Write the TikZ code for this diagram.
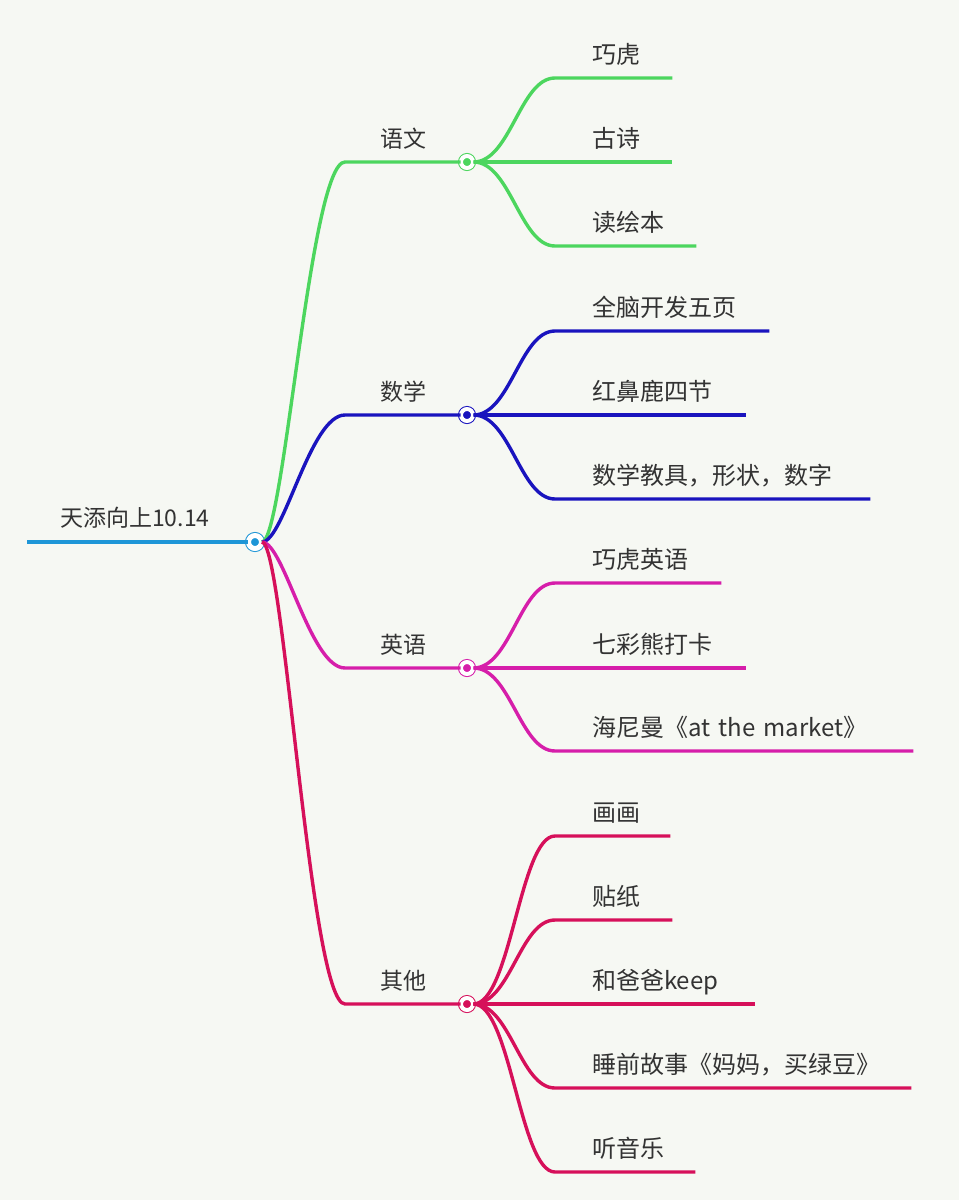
\documentclass[tikz,border=0pt]{standalone}
\usepackage{fontspec}
\usepackage{tikz}
\usetikzlibrary{positioning,backgrounds}
\newfontfamily\cjk{Noto Sans CJK SC}
\definecolor{bg}{RGB}{246,248,243}
\definecolor{txt}{RGB}{51,51,51}
\definecolor{croot}{RGB}{30,150,215}
\definecolor{cgreen}{RGB}{76,214,94}
\definecolor{cblue}{RGB}{26,20,190}
\definecolor{cpink}{RGB}{214,30,170}
\definecolor{cred}{RGB}{214,16,90}
\tikzstyle{hub} = [circle, minimum size=12pt, inner sep=0pt, %
   line width=1pt, double=white, double distance=4pt]
\tikzstyle{rootlabel} = [anchor=base west, inner sep=0pt, text=txt, %
   font=\cjk\fontsize{23pt}{27pt}\selectfont]
\tikzstyle{mainlabel} = [anchor=base west, inner sep=0pt, text=txt, %
   font=\cjk\fontsize{23pt}{27pt}\selectfont]
\tikzstyle{leaf} = [anchor=south west, inner sep=0pt, text depth=14pt, %
   align=left, text=txt, font=\cjk\fontsize{24pt}{28pt}\selectfont]
\tikzstyle{line} = [draw, line width=3.4pt]

\begin{document}
\begin{tikzpicture}[x=1pt, y=-1pt]
      \useasboundingbox (0,0) rectangle (959,1200);
      \begin{scope}[on background layer]
         \fill[bg] (0,0) rectangle (959,1200);
      \end{scope}

      % ROOT %%%%%%%%%%%%%%%%%%%%%%%%%%%%%%%%%%%%%%%%%%%%%%%%%%%%%%%%%%
         \coordinate (start) at (27,542);
         \node[hub, minimum size=13pt, double distance=5pt, draw=croot, fill=croot] (root) at (255,542) {};
         \node[rootlabel] (root-t) at (60,526) {天添向上10.14};

      % MAIN BRANCHES %%%%%%%%%%%%%%%%%%%%%%%%%%%%%%%%%%%%%%%%%%%%%%%%%
         \node[hub, draw=cgreen, fill=cgreen](chinese) at (467,162) {};
         \node[mainlabel](chinese-t) at (380,147) {语文};
         \coordinate (chinese-in) at (345,162);

         \node[hub, draw=cblue, fill=cblue](maths) at (467,415) {};
         \node[mainlabel](maths-t) at (380,400) {数学};
         \coordinate (maths-in) at (345,415);

         \node[hub, draw=cpink, fill=cpink](english) at (467,668) {};
         \node[mainlabel](english-t) at (380,653) {英语};
         \coordinate (english-in) at (345,668);

         \node[hub, draw=cred, fill=cred](other) at (467,1004) {};
         \node[mainlabel](other-t) at (380,989) {其他};
         \coordinate (other-in) at (345,1004);

      % LEAVES %%%%%%%%%%%%%%%%%%%%%%%%%%%%%%%%%%%%%%%%%%%%%%%%%%%%%%%%
         \node[leaf, text width=80pt](qiaohu) at (592,78) {巧虎};
         \node[leaf, text width=80pt](gushi) at (592,162) {古诗};
         \node[leaf, text width=104pt](huiben) at (592,246) {读绘本};

         \node[leaf, text width=177pt](quannao) at (592,331) {全脑开发五页};
         \node[leaf, text width=154pt](honglu) at (592,415) {红鼻鹿四节};
         \node[leaf, text width=278pt](jiaoju) at (592,499) {数学教具，形状，数字};

         \node[leaf, text width=129pt](qhenglish) at (592,583) {巧虎英语};
         \node[leaf, text width=154pt](qicai) at (592,668) {七彩熊打卡};
         \node[leaf, text width=321pt](heinemann) at (592,751) {海尼曼《at the market》};

         \node[leaf, text width=78pt](huahua) at (592,836) {画画};
         \node[leaf, text width=80pt](tiezhi) at (592,920) {贴纸};
         \node[leaf, text width=163pt](keep) at (592,1004) {和爸爸keep};
         \node[leaf, text width=319pt](shuiqian) at (592,1088) {睡前故事《妈妈，买绿豆》};
         \node[leaf, text width=103pt](yinyue) at (592,1172) {听音乐};

         % Draw edges
         % Root and main branches
         \path [line, croot, line width=4pt] (start) -- (root.west);
         \path [line, cgreen] (root.east) .. controls +(22,0) and +(-35,0) .. (chinese-in) -- (chinese.west);
         \path [line, cblue] (root.east) .. controls +(22,0) and +(-35,0) .. (maths-in) -- (maths.west);
         \path [line, cpink] (root.east) .. controls +(22,0) and +(-35,0) .. (english-in) -- (english.west);
         \path [line, cred] (root.east) .. controls +(22,0) and +(-35,0) .. (other-in) -- (other.west);

         % Leaves
         \foreach \leafname in {qiaohu,gushi,huiben}
            \path [line, cgreen] (chinese.east) .. controls +(37,0) and +(-35,0) .. ([xshift=-37pt]\leafname.south west) -- (\leafname.south east);
         \foreach \leafname in {quannao,honglu,jiaoju}
            \path [line, cblue] (maths.east) .. controls +(37,0) and +(-35,0) .. ([xshift=-37pt]\leafname.south west) -- (\leafname.south east);
         \foreach \leafname in {qhenglish,qicai,heinemann}
            \path [line, cpink] (english.east) .. controls +(37,0) and +(-35,0) .. ([xshift=-37pt]\leafname.south west) -- (\leafname.south east);
         \foreach \leafname in {huahua,tiezhi,keep,shuiqian,yinyue}
            \path [line, cred] (other.east) .. controls +(37,0) and +(-35,0) .. ([xshift=-37pt]\leafname.south west) -- (\leafname.south east);

\end{tikzpicture}
\end{document}
